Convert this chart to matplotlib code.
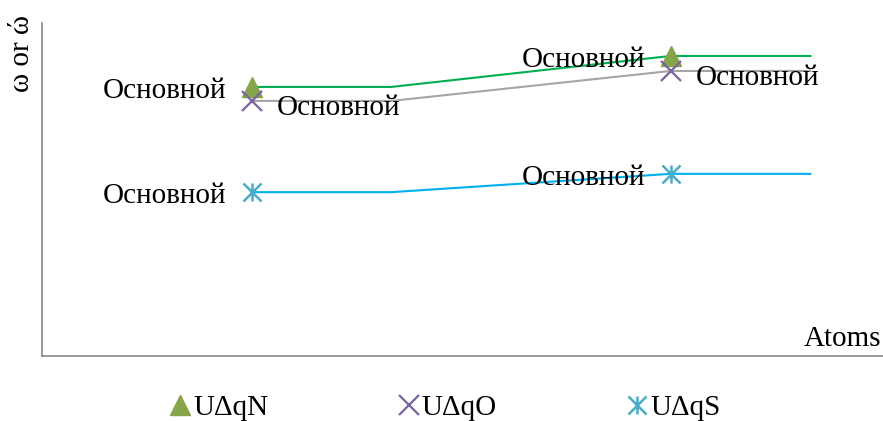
import matplotlib
matplotlib.use("Agg")
import matplotlib.pyplot as plt
from matplotlib.lines import Line2D
from matplotlib.path import Path

plt.rcParams['font.family'] = ['Liberation Serif', 'DejaVu Serif']

# Line path positions (atoms axis) and values
x_line = [1.0, 1.5, 2.5, 3.0]
n_line = [8.08, 8.08, 9.01, 9.01]
o_line = [7.66, 7.66, 8.56, 8.56]
s_line = [4.92, 4.92, 5.47, 5.47]

# Marked points
x_pts = [1.0, 2.5]
n_pts = [8.08, 9.01]
o_pts = [7.66, 8.56]
s_pts = [4.92, 5.47]

point_label = "Основной"
series_names = ["UΔqN", "UΔqO", "UΔqS"]

# Asterisk: vertical bar plus an X
M, L = Path.MOVETO, Path.LINETO
asterisk = Path([(0, -1), (0, 1), (-1, -1), (1, 1), (-1, 1), (1, -1)],
                [M, L, M, L, M, L])

fig = plt.figure(figsize=(8.83, 4.21), dpi=100)
ax = fig.add_axes([42 / 883, 65 / 421, 841 / 883, 333 / 421])
ax.set_xlim(0.25, 3.26)
ax.set_ylim(0, 10)

ax.plot(x_line, n_line, color="#00B050", lw=1.5, zorder=2)
ax.plot(x_line, o_line, color="#A5A5A5", lw=1.5, zorder=2)
ax.plot(x_line, s_line, color="#00B0F0", lw=1.5, zorder=2)

tri_kw = dict(marker="^", color="#86A44A", markersize=14, linestyle="none")
x_kw = dict(marker="x", color="#7B62A0", markersize=14, markeredgewidth=1.6, linestyle="none")
ast_kw = dict(marker=asterisk, color="#4BACC6", markersize=13, markeredgewidth=1.8,
              fillstyle="none", linestyle="none")

ax.plot(x_pts, n_pts, zorder=3, **tri_kw)
ax.plot(x_pts, o_pts, zorder=3, **x_kw)
ax.plot(x_pts, s_pts, zorder=3, **ast_kw)

fs = 21
off = 18
dy = -3
# N labels: to the left
for xv, yv in zip(x_pts, n_pts):
    ax.annotate(point_label, (xv, yv), xytext=(-off, dy), textcoords="offset points",
                ha="right", va="center", fontsize=fs)
# O labels: to the right
for xv, yv in zip(x_pts, o_pts):
    ax.annotate(point_label, (xv, yv), xytext=(off, dy - 2), textcoords="offset points",
                ha="left", va="center", fontsize=fs)
# S labels: to the left
for xv, yv in zip(x_pts, s_pts):
    ax.annotate(point_label, (xv, yv), xytext=(-off, dy), textcoords="offset points",
                ha="right", va="center", fontsize=fs)

for side in ("top", "right"):
    ax.spines[side].set_visible(False)
for side in ("left", "bottom"):
    ax.spines[side].set_color("#888888")
    ax.spines[side].set_linewidth(1.2)
ax.set_xticks([])
ax.set_yticks([])

fig.text(22 / 883, 1 - 54 / 421, "ω or ώ", rotation=90, ha="center", va="center", fontsize=fs)
fig.text(842 / 883, 1 - 339 / 421, "Atoms", ha="center", va="center", fontsize=fs)

handles = [Line2D([], [], **tri_kw), Line2D([], [], **x_kw), Line2D([], [], **ast_kw)]
fig.legend(handles, series_names, loc="center", bbox_to_anchor=(446 / 883, 1 - 408 / 421),
           ncol=3, frameon=False, fontsize=fs, handlelength=0.6, handletextpad=0.15,
           columnspacing=4.5)

fig.savefig("out.png", dpi=100)
